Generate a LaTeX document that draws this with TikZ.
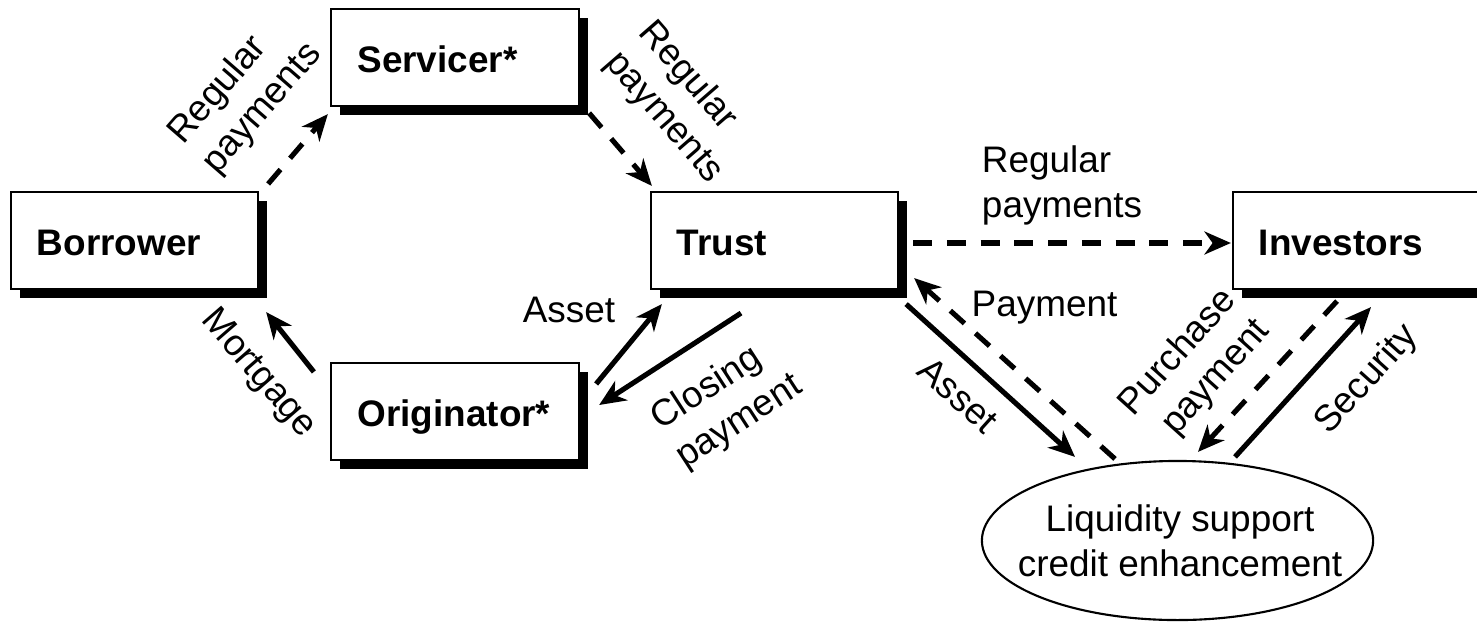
\documentclass[tikz,border=0pt]{standalone}
\usepackage{fontspec}
\setmainfont{Liberation Sans}
\usetikzlibrary{arrows.meta,shapes.geometric,shadows}
\begin{document}
\begin{tikzpicture}[x=0.01cm, y=-0.01cm, font=\fontsize{10.5}{12.8}\selectfont,
    box/.style={rectangle, draw=black, fill=white, line width=0.6pt, minimum width=2.47cm, minimum height=0.97cm,
      text width=1.95cm, inner xsep=0.26cm, align=left, text height=8.3pt, text depth=0pt,
      font=\fontsize{10.5}{12.8}\selectfont\bfseries,
      drop shadow={shadow xshift=0.09cm, shadow yshift=-0.09cm, fill=black, opacity=1}},
    arr/.style={line width=1.45pt, -{Stealth[length=7.5pt, width=6.5pt, inset=2.3pt]}},
    darr/.style={arr, dash pattern=on 5.4pt off 4.2pt},
    lbl/.style={align=left, inner sep=0pt}]
    \useasboundingbox (0,0) rectangle (1477,621);

    \node[box] (bor) at (134.5,240.5) {Borrower};
    \node[box] (serv) at (455,57.5) {Servicer*};
    \node[box] (trust) at (774.5,240.5) {Trust};
    \node[box] (inv) at (1356.5,240.5) {Investors};
    \node[box] (orig) at (455,411.5) {Originator*};
    \node[ellipse, draw=black, line width=0.6pt, minimum width=3.91cm, minimum height=1.59cm, inner sep=0pt] (liq) at (1177.5,540.5) {};
    \node[align=center, inner sep=0pt] (liqtxt) at (1180,541) {Liquidity support\\credit enhancement};

    \draw[darr] ([shift={(9,-7)}]bor.north east) -- ([shift={(-2.5,7)}]serv.south west);
    \draw[darr] ([shift={(9.5,6)}]serv.south east) -- ([shift={(2,-5)}]trust.north west);
    \draw[darr] ([shift={(14,2.5)}]trust.east) -- ([shift={(-1,2.5)}]inv.west);
    \draw[arr] ([shift={(-16.5,10)}]orig.north west) -- ([shift={(7,22)}]bor.south east);
    \draw[arr] ([shift={(16.5,22)}]orig.north east) -- ([shift={(12,14)}]trust.south west);
    \draw[arr] ([shift={(-33.5,23)}]trust.south) -- ([shift={(19.5,-6.5)}]orig.east);
    \draw[arr] ([shift={(7,14)}]trust.south east) -- ([shift={(-102.5,-3)}]liq.north);
    \draw[darr] ([shift={(-62.5,-1)}]liq.north) -- ([shift={(15,-12)}]trust.south east);
    \draw[darr] ([shift={(-19.5,11)}]inv.south) -- ([shift={(20.5,-8)}]liq.north);
    \draw[arr] ([shift={(57.5,-3)}]liq.north) -- ([shift={(14.5,17)}]inv.south);

    \node[lbl, rotate=49] (regA) at (245.5,93.7) {Regular\\payments};
    \node[lbl, rotate=-49] (regB) at (680.7,102.7) {Regular\\payments};
    \node[lbl] (regC) at (1062,185) {Regular\\payments};
    \node[lbl, rotate=-49] (mort) at (258,374) {Mortgage};
    \node[lbl] (assA) at (569,309.5) {Asset};
    \node[lbl, rotate=33] (clos) at (727,403) {Closing\\payment};
    \node[lbl, rotate=-42] (assB) at (958,395) {Asset};
    \node[lbl] (paym) at (1044.5,307.5) {Payment};
    \node[lbl, rotate=48] (purch) at (1195,368) {Purchase\\\hspace*{4pt}payment};
    \node[lbl, rotate=48] (secu) at (1367,380) {Security};
  \end{tikzpicture}
\end{document}
